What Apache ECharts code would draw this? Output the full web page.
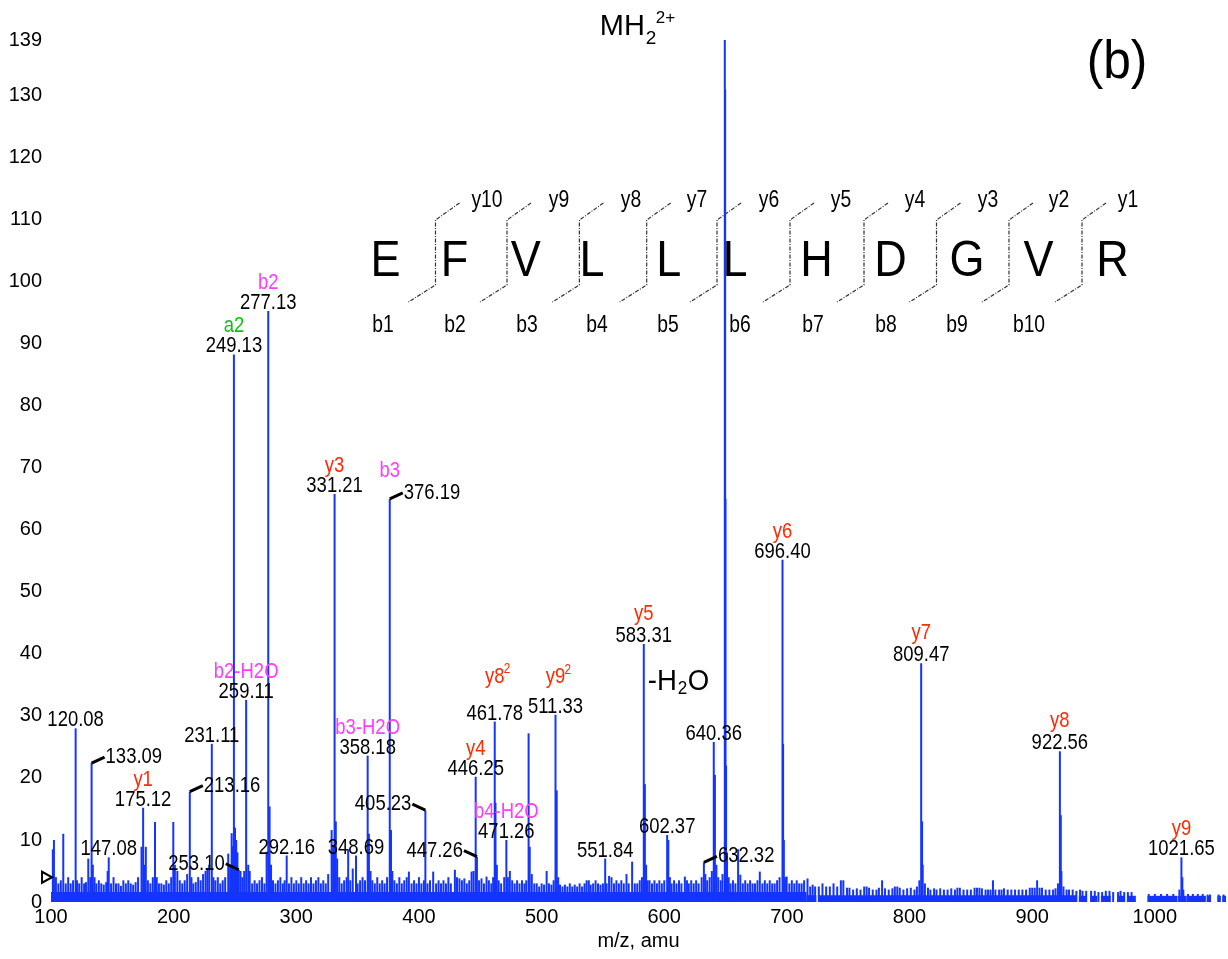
<!DOCTYPE html>
<html><head><meta charset="utf-8">
<script src="https://cdn.jsdelivr.net/npm/echarts@6/dist/echarts.min.js"></script>
<style>html,body{margin:0;padding:0;background:#fff}#c{width:1228px;height:959px}</style>
</head><body><div id="c"></div>
<script>
// ---------------- DATA ----------------
const xTicks = [100,200,300,400,500,600,700,800,900,1000];
const yTicks = [0,10,20,30,40,50,60,70,80,90,100,110,120,130,139];
const xTitle = 'm/z, amu';
const panelTag = '(b)';

// labelled / major peaks [m/z, intensity]
const majorPeaks = [
 [120.08,28.0],[133.09,22.4],[147.08,7.2],[175.12,15.2],[213.16,17.8],[231.11,25.5],
 [249.13,88.3],[253.10,5.2],[259.11,32.6],[277.13,95.3],[292.16,7.5],[331.21,65.8],
 [348.69,7.5],[358.18,23.6],[376.19,65.0],[405.23,14.8],[446.25,20.2],[447.26,7.3],
 [461.78,29.1],[471.26,10.0],[489.4,27.2],[511.33,30.2],[551.84,7.0],[583.31,41.6],
 [602.37,10.8],[632.32,6.4],[640.36,25.8],[649.37,139],[696.40,55.2],[809.47,38.5],
 [922.56,24.3],[1021.65,7.2]
];

// smaller peaks, isotopes and noise [m/z, intensity]
const minorPeaks = [
[101.5,8.5],[102.4,10],[104,4],[106,3],[108,3.5],[110,11],[112,3],[114,4],[116,3],[118,3.5],[121.2,3.5],[123,3],[125,4],[127,3],[128.5,3.2],[130.4,7],[132,4],[134.1,6],[135.5,4],[137,3],[139,3.5],[141,3],[143,2.8],[145,3.2],[146.2,5],[149,3],[151,4],[153,3],[155,3],[157,2.6],[159,3.5],[161,3],[163,3.5],[165,3],[167,2.8],[169,3.2],[171,4],[173.8,8.9],[176.2,6],[177.3,8.9],[179,3.5],[181,3],[183,4],[184.8,12.9],[186.2,4],[188,3],[190,3],[192,2.8],[194,3.5],[196,3],[198,4],[199.7,12.9],[201,6],[203,5],[205,3.5],[207,3],[209,3.5],[211,4.5],[214.5,4],[216,3],[218,3.2],[220,4],[222,3.5],[224,4.5],[226,5],[227.5,5.5],[229,6],[232.4,4],[234,3.5],[236,4],[238,3],[240,3.5],[242,4],[244.5,7.8],[246,6],[247.3,11.1],[248.2,9],[250,12],[251,10],[252,8],[254.5,5],[256,4],[257.5,5],[260.8,6],[262,5],[264,3],[266,3.5],[268,3],[270,3.5],[272,4],[274,3],[275.8,8.1],[278.2,15.4],[279.4,6],[281,3.5],[283,3],[285,3.5],[287,4],[289,3],[290.5,3.5],[294,3],[296,4],[298,3],[300,3.5],[302,3],[304,4],[306,3],[308,3.5],[310,3],[312,4],[314,3],[316,3.5],[318,4],[320,3],[322,3.5],[324,3],[326,4.5],[328.8,11.6],[330,9],[332.2,13],[333.3,7],[335,4],[337,3],[339,3.5],[341,4],[342.3,8.5],[344,3.5],[346,5.4],[350,3],[352,3.5],[354,4],[356,3.5],[359.2,11],[360.5,5],[362,3.5],[364,3],[366,4],[368,3],[370,3.5],[372,3],[374,4],[377.2,11.6],[378.3,5],[380,3.5],[382,3],[384,4],[386,3],[388,3.5],[390,4],[391.8,4.9],[394,3],[396,3.5],[398,3],[400,4],[402,3],[404,3.5],[407,3],[409,3.5],[411.6,4.9],[414,3],[416,3.5],[418,3],[420,3.5],[422,3],[424,4],[426,3],[429.3,5.2],[431,4],[433,3.8],[435,3.5],[437,3.8],[439,3],[441,3.5],[442.9,4.9],[444.5,5],[449,3.5],[451,3.8],[453,3],[455.1,4.1],[457,3.5],[459,3],[460.5,4],[462.4,16],[463.5,6],[465,3.5],[467,3],[469.5,4],[472.5,4],[474.1,5],[476,3.5],[478,3],[480,3.5],[482,3],[484,3.5],[486,3],[487.5,3.5],[490.3,8.9],[492,4.5],[494,3],[496,3],[498,2.5],[500,3],[502,2.8],[504.1,5],[506,3],[508,2.8],[509.8,3.5],[512.3,18],[513.5,4],[515,2.8],[517,2.5],[519,2.8],[521,2.5],[523,3],[525,2.5],[527,2.8],[529,2.5],[531,3],[533,2.5],[535,3],[536.7,3.5],[538.5,3.5],[540,2.8],[542,3],[544,3.5],[546,3],[548,2.8],[550,3],[553,3],[555,4.2],[557,4],[559,3],[561,3.5],[563,3],[565,3.5],[567,3],[569.2,4.5],[571,3],[573.8,6.5],[576,3],[578,3],[580,3.5],[581.8,4],[584.2,19],[585.2,6],[586.5,3.5],[588,3.5],[590,3],[592,3.5],[594,3],[596,3.5],[598,3],[600,3.5],[603.3,10],[604.6,4],[606,3],[608,3.5],[610,3],[612,3.5],[614,3],[616.8,4.1],[618.5,3.5],[620,3],[622,3.5],[624,3],[626,3.5],[628,3],[630.5,4],[633.5,4.5],[635,3.5],[637,4],[638.8,5],[641.3,20.5],[642.5,6],[644,4],[646,3.5],[647.5,4.5],[649.65,131],[649.9,65],[650.4,22],[651.2,8],[652.5,4],[654,3],[656,3.5],[658,3],[660.2,8.5],[662,4.4],[664,3],[666,3.5],[668,3],[670,3.5],[672,3],[674,3],[676,3.5],[677.9,4.9],[680,3],[682,3.5],[684,3],[686,3.5],[688,3],[690,3],[692,3.5],[694,4],[696.9,25.5],[697.5,10],[698.6,4],[699.8,4.1],[702,3],[704,3.5],[706,3],[708,3.5],[710,3],[712,3],[714,3.5],[716.8,3.8],[719,2.5],[721,2.8],[723,2.5],[726,2.5],[729,3],[732,2.5],[735,2.5],[738,3],[741,2.5],[744,3.5],[746,3.5],[749,2.3],[751,2.3],[754,2],[757,2.2],[760,2],[763,2.5],[765,2.5],[767,2.3],[770,2],[773,2],[775,2.3],[777.6,3.5],[780,2.2],[783,2],[786,2.2],[788,2.5],[790,2.5],[792,2.3],[795,2],[798,2.2],[801,2.3],[804,2],[806,2.5],[808,3.5],[810.2,13],[810.7,6],[812.5,3],[815,2.3],[817,2],[820,2.2],[822,2],[825,2.2],[828,2],[831,2],[834,2.2],[837,2],[839,2.3],[841,2.3],[844,2],[847,2],[850,2],[853,2.3],[855,2.3],[857,2.3],[859,2.2],[862,2],[864,2],[866,2],[868,3.5],[870,2],[873,2],[875,2],[877,2.2],[880,2],[883,2],[886,2],[889,2],[892,2],[895,2],[898,2.3],[900,2.3],[902,2.3],[904,3.5],[906,2.3],[908,2.3],[911,2],[914,2],[917,2],[919,2.2],[921,3],[923.3,14],[923.8,5],[925.5,2.5],[928,2],[930,2],[933,2],[936,1.8],[939,2],[941,1.8],[944,1.8],[948,1.8],[951,1.8],[954,1.6],[957,1.6],[960,1.8],[963,1.8],[966,1.6],[970,1.6],[972,1.8],[975,1.6],[978,1.6],[981,1.6],[995,1.3],[1000,1.3],[1005,1.3],[1010,1.3],[1015,1.3],[1020,2],[1022.4,4],[1023.2,2],[1027,1.3],[1031,1.3],[1035,1.3],[1039,1.3],[1043,1.2],[1045,1.2],[1052,1.2],[1056,1.2]
];

// baseline noise floor segments [from m/z, to m/z, level]
const floorSegments = [
 [100,716,1.6],[716,724,1.1],[726,936,1.1],[938,944,1.0],[947.8,953,1.0],[956,964,1.0],
 [969.5,975,1.0],[977.7,984.5,1.0],[994,1018.5,1.0],[1019,1026,1.0],[1026.6,1041.6,1.0],
 [1043,1045.6,1.0],[1051,1053.8,1.0],[1055,1058,1.0]
];

// threshold marker
const thresholdMarker = [100, 4];

// peak annotations: m/z (value from majorPeaks) and ion name
const annotations = [
 {mz:120.08},{mz:133.09},{mz:147.08},{mz:175.12, ion:'y1'},{mz:213.16},{mz:231.11},
 {mz:249.13, ion:'a2'},{mz:253.10},{mz:259.11, ion:'b2-H2O'},{mz:277.13, ion:'b2'},
 {mz:292.16},{mz:331.21, ion:'y3'},{mz:348.69},{mz:358.18, ion:'b3-H2O'},{mz:376.19, ion:'b3'},
 {mz:405.23},{mz:446.25, ion:'y4'},{mz:447.26},{mz:461.78, ion:'y8', sup:'2'},
 {mz:471.26, ion:'b4-H2O'},{mz:511.33, ion:'y9', sup:'2'},{mz:551.84},{mz:583.31, ion:'y5'},
 {mz:602.37},{mz:632.32},{mz:640.36, note:'H2O'},{mz:649.37, precursor:true},
 {mz:696.40, ion:'y6'},{mz:809.47, ion:'y7'},{mz:922.56, ion:'y8'},{mz:1021.65, ion:'y9'}
];

// peptide sequence and fragment names
const sequence = ['E','F','V','L','L','L','H','D','G','V','R'];
const yIons = ['y10','y9','y8','y7','y6','y5','y4','y3','y2','y1'];
const bIons = ['b1','b2','b3','b4','b5','b6','b7','b8','b9','b10'];

// ---------------- LAYOUT / STYLE ----------------
const BLUE = '#1434ff';
const ION_COLORS = { y:'#ff2a00', b:'#ff3cff', a:'#10c010' };
const annLayout = {
 '133.09':{side:'right'}, '213.16':{side:'right'}, '253.10':{side:'left'},
 '376.19':{side:'right'}, '405.23':{side:'left'}, '447.26':{side:'left'},
 '632.32':{side:'right'}, '461.78':{ionDy:-45}, '511.33':{ionDy:-38},
 '583.31':{ionDy:-30}, '809.47':{ionDy:-30}, '922.56':{ionDy:-30}
};
const seqLayout = {
 letterX:[385.5,454.4,525.8,592,668.7,735,816.6,890.6,967,1038.6,1112.6], letterY:262,
 bracketX:[435.5,507,579.4,646.7,717,790,864,936.5,1009,1082],
 topY:220, botY:285, topDx:24, topEndY:203, botDx:-27, botEndY:302,
 yLabelX:[487,559,631,697,769,841,915,988,1059,1128], yLabelY:201,
 bLabelX:[383,455,527,597,668,740,813,886,957,1029], bLabelY:326
};

const FR = '"Liberation Sans", Arial, sans-serif';
const SX = 0.84;      // horizontal compression of the reference lettering
const LFS = 22;       // annotation font size
const AFS = 20;       // axis font size

const peakMap = {};
majorPeaks.forEach(p => { peakMap[p[0].toFixed(2)] = p[1]; });

function T(text, x, y, align, color, size, sx){
  return {type:'text', x:x, y:y, scaleX:(sx==null?SX:sx), scaleY:1,
    style:{text:text, x:0, y:0, fill:color||'#000',
    font:(size||LFS)+'px '+FR, align:align||'center', verticalAlign:'middle',
    textAlign:align||'center', textVerticalAlign:'middle'}};
}

function renderAnn(params, api){
  const a = annotations[api.value(2)];
  const pt = api.coord([api.value(0), api.value(1)]);
  const px = pt[0], py = pt[1];
  const key = a.mz.toFixed(2);
  const L = Object.assign({side:'top', ionDy:-28}, annLayout[key]||{});
  const kids = [];
  if (a.precursor){
    kids.push(T('MH', px-125, py-13, 'left', '#000', 29, 1));
    kids.push(T('2', px-79, py-1, 'left', '#000', 19, 1));
    kids.push(T('2+', px-69, py-22, 'left', '#000', 17, 1));
    return {type:'group', children:kids};
  }
  if (L.side==='top'){
    kids.push(T(key, px, py-8, 'center'));
  } else {
    const s = L.side==='right' ? 1 : -1;
    kids.push({type:'line', shape:{x1:px, y1:py, x2:px+s*13, y2:py-6}, style:{stroke:'#000', lineWidth:3}});
    kids.push(T(key, px+s*14, py-6, s>0?'left':'right'));
  }
  if (a.ion){
    const col = ION_COLORS[a.ion[0]];
    kids.push(T(a.ion, px, py+L.ionDy, 'center', col));
    if (a.sup){
      kids.push(T(a.sup, px+9, py+L.ionDy-7, 'left', col, 14));
    }
  }
  if (a.note){
    kids.push(T('-H', px-66, py-60, 'left', '#000', 29, 0.95));
    kids.push(T('2', px-36, py-53, 'left', '#000', 18, 0.95));
    kids.push(T('O', px-26, py-60, 'left', '#000', 29, 0.95));
  }
  return {type:'group', children:kids};
}

function renderFloor(params, api){
  const p0 = api.coord([api.value(0), api.value(2)]);
  const p1 = api.coord([api.value(1), 0]);
  return {type:'rect', shape:{x:p0[0], y:p0[1], width:p1[0]-p0[0], height:p1[1]-p0[1]}, style:{fill:BLUE}};
}

function GT(text, x, y, size, sx){
  return {type:'text', z:1, x:x, y:y, scaleX:sx, style:{text:text, x:0, y:0, font:size+'px '+FR, fill:'#000',
    align:'center', verticalAlign:'middle', textAlign:'center', textVerticalAlign:'middle'}};
}

// sequence graphics
const G = [];
sequence.forEach((s,i)=>G.push(GT(s, seqLayout.letterX[i], seqLayout.letterY, 50, 0.9)));
seqLayout.bracketX.forEach((x)=>{
  G.push({type:'polyline', z:1, shape:{points:[[x+seqLayout.topDx, seqLayout.topEndY],[x, seqLayout.topY],[x, seqLayout.botY],[x+seqLayout.botDx, seqLayout.botEndY]]},
    style:{stroke:'#333', lineWidth:1.2, fill:null, lineDash:[4,1.5,1,1.5]}});
});
yIons.forEach((t,i)=>G.push(GT(t, seqLayout.yLabelX[i], seqLayout.yLabelY, 23, SX)));
bIons.forEach((t,i)=>G.push(GT(t, seqLayout.bLabelX[i], seqLayout.bLabelY, 23, SX)));
G.push(GT(panelTag, 1117, 63, 54, 0.92));

const chart = echarts.init(document.getElementById('c'), null, {renderer:'canvas'});
const allPeaks = majorPeaks.concat(minorPeaks).sort((a,b)=>a[0]-b[0]);
const annData = annotations.map((a,i)=>[a.mz, peakMap[a.mz.toFixed(2)], i]);

chart.setOption({
  animation:false,
  backgroundColor:'#fff',
  grid:{left:51, top:40, width:1175, height:862, containLabel:false},
  xAxis:{type:'value', min:100, max:1058, interval:100,
    axisLine:{show:false}, axisTick:{show:false}, splitLine:{show:false},
    axisLabel:{customValues:xTicks, color:'#000', fontSize:AFS, fontFamily:FR, margin:5,
      formatter:(v)=>String(v)},
    name:xTitle, nameLocation:'middle', nameGap:29,
    nameTextStyle:{color:'#000', fontSize:AFS, fontFamily:FR}},
  yAxis:{type:'value', min:0, max:139, interval:10,
    axisLine:{show:false}, axisTick:{show:false}, splitLine:{show:false},
    axisLabel:{customValues:yTicks, color:'#000', fontSize:AFS, fontFamily:FR, margin:9,
      formatter:(v)=>String(v)}},
  graphic:G,
  series:[
    {type:'custom', name:'floor', data:floorSegments, renderItem:renderFloor, z:2, silent:true,
      encode:{x:[0,1], y:2}},
    {type:'bar', name:'spectrum', data:allPeaks, barWidth:2, itemStyle:{color:BLUE}, z:3, silent:true,
      markPoint:{silent:true, data:[{coord:thresholdMarker, symbol:'triangle', symbolRotate:-90, symbolSize:[11,10], symbolOffset:[-4,0],
        itemStyle:{color:'#fff', borderColor:'#000', borderWidth:2}, label:{show:false}}]}},
    {type:'custom', name:'labels', data:annData, renderItem:renderAnn, z:5, clip:false, silent:true,
      encode:{x:0, y:1}}
  ]
});
</script></body></html>
